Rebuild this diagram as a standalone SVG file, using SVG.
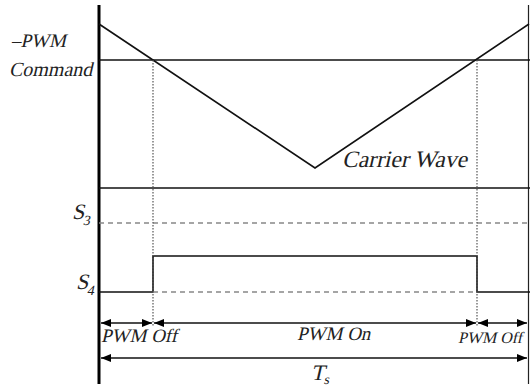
<svg xmlns="http://www.w3.org/2000/svg" width="530" height="390" viewBox="0 0 530 390">
<style>
text{font-family:'Liberation Serif','Times New Roman',serif;fill:#222}
.ln{stroke:#111;stroke-width:1.6;fill:none}
.dot{stroke:#555;stroke-width:1.2;stroke-dasharray:1.5,1.5;fill:none}
.dsh{stroke:#888;stroke-width:1.3;stroke-dasharray:5,4;fill:none}
</style>
<defs>
<marker id="a" viewBox="0 0 10 8" refX="10" refY="4" markerWidth="10" markerHeight="8" markerUnits="userSpaceOnUse" orient="auto-start-reverse">
<path d="M0,0 L10,4 L0,8 Z" fill="#000"/>
</marker>
</defs>
<rect width="530" height="390" fill="#fff"/>
<g id="axes">
<line x1="99" y1="5" x2="99" y2="384" stroke="#000" stroke-width="3"/>
<line x1="528.5" y1="5" x2="528.5" y2="384" stroke="#222" stroke-width="1.2"/>
</g>
<g id="waves">
<line class="ln" x1="99" y1="60" x2="530" y2="60"/>
<polyline class="ln" points="99,24 315,168 529,24"/>
<line class="ln" x1="99" y1="188" x2="530" y2="188"/>
<line class="dsh" x1="99" y1="223" x2="530" y2="223"/>
<polyline class="ln" points="99,292 153,292 153,256 477,256 477,292 530,292"/>
<line class="dsh" x1="153" y1="292" x2="477" y2="292"/>
<line class="dot" x1="153" y1="60" x2="153" y2="327"/>
<line class="dot" x1="477" y1="60" x2="477" y2="327"/>
</g>
<g id="connectors">
<line class="ln" x1="101" y1="323" x2="152" y2="323" marker-start="url(#a)" marker-end="url(#a)"/>
<line class="ln" x1="154" y1="323" x2="476" y2="323" marker-start="url(#a)" marker-end="url(#a)"/>
<line class="ln" x1="478" y1="323" x2="527" y2="323" marker-start="url(#a)" marker-end="url(#a)"/>
<line class="ln" x1="101" y1="358" x2="527" y2="358" marker-start="url(#a)" marker-end="url(#a)"/>
</g>
<g id="labels">
<text transform="translate(11,47) skewX(-13)" font-size="19">–PWM</text>
<text transform="translate(9,76) skewX(-13)" font-size="20">Command</text>
<text transform="translate(342,167) skewX(-13)" font-size="23.5">Carrier Wave</text>
<text transform="translate(72,219) skewX(-13)" font-size="22">S<tspan font-size="14" dy="6">3</tspan></text>
<text transform="translate(76,289) skewX(-13)" font-size="22">S<tspan font-size="14" dy="6">4</tspan></text>
<text transform="translate(101,342) skewX(-13)" font-size="19">PWM Off</text>
<text transform="translate(297,340) skewX(-13)" font-size="19">PWM On</text>
<text transform="translate(458,343) skewX(-13)" font-size="16">PWM Off</text>
<text transform="translate(311,380) skewX(-13)" font-size="22">T<tspan font-size="14" dy="4">s</tspan></text>
</g>
</svg>
